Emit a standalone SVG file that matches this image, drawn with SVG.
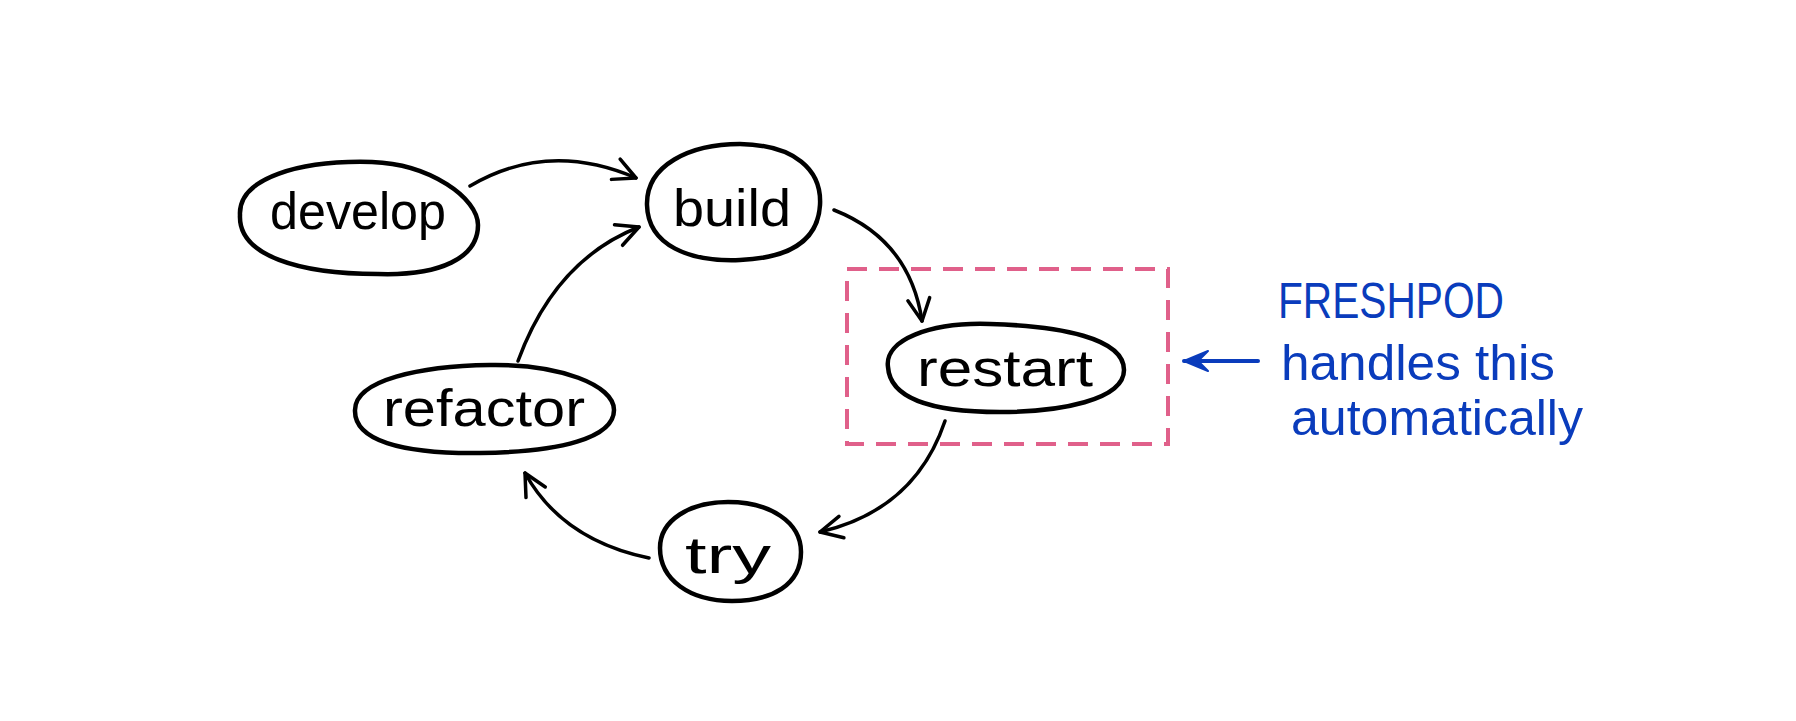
<svg xmlns="http://www.w3.org/2000/svg" width="1796" height="721" viewBox="0 0 1796 721">
<style>
.node{fill:none;stroke:#000;stroke-width:4.5;stroke-linecap:round;stroke-linejoin:round}
.lbl{font-family:"Liberation Sans","DejaVu Sans",sans-serif;font-size:52px;fill:#000;text-anchor:middle}
.edge{fill:none;stroke:#000;stroke-width:3.5;stroke-linecap:round}
.note{font-family:"Liberation Sans","DejaVu Sans",sans-serif;font-size:50px;fill:#0a3cbc}
</style>
<defs>
<marker id="ah" viewBox="0 0 28 28" refX="26" refY="14" markerWidth="28" markerHeight="28" markerUnits="userSpaceOnUse" orient="auto">
<path d="M4 3 L26 14 L4 25" fill="none" stroke="#000" stroke-width="3.5" stroke-linecap="round" stroke-linejoin="round"/>
</marker>
<marker id="bh" viewBox="0 0 30 24" refX="28" refY="12" markerWidth="30" markerHeight="24" markerUnits="userSpaceOnUse" orient="auto">
<path d="M28 12 L4 2 L14 12 L4 22 Z" fill="#0a3cbc" stroke="#0a3cbc" stroke-width="2" stroke-linejoin="round"/>
</marker>
</defs>
<rect width="1796" height="721" fill="#fff"/>
<g id="connectors">
<path class="edge" d="M470 186 Q548 140 636 178" marker-end="url(#ah)"/>
<path class="edge" d="M518 361 Q555 260 639 227" marker-end="url(#ah)"/>
<path class="edge" d="M834 210 Q910 240 922 321" marker-end="url(#ah)"/>
<path class="edge" d="M945 421 Q915 510 820 532" marker-end="url(#ah)"/>
<path class="edge" d="M649 558 Q562 540 525 473" marker-end="url(#ah)"/>
</g>
<g id="develop">
<path class="node" d="M240 215 C238 178 300 160 372 162 C430 164 478 198 478 225 C478 258 440 276 378 274 C300 274 238 256 240 215 Z"/>
<text class="lbl" x="358" y="229" textLength="176" lengthAdjust="spacingAndGlyphs">develop</text>
</g>
<g id="build">
<path class="node" d="M647 205 C646 165 690 144 740 144 C795 145 822 170 820 205 C818 240 790 258 740 260 C690 262 648 246 647 205 Z"/>
<text class="lbl" x="732" y="226" textLength="118" lengthAdjust="spacingAndGlyphs">build</text>
</g>
<g id="restart">
<rect x="847" y="269" width="321" height="175" fill="none" stroke="#e0608a" stroke-width="4" stroke-dasharray="20 12"/>
<path class="node" d="M888 367 C884 340 930 322 990 324 C1060 326 1124 338 1124 370 C1124 400 1060 412 1000 412 C930 412 890 398 888 367 Z"/>
<text class="lbl" x="1005" y="386" textLength="176" lengthAdjust="spacingAndGlyphs">restart</text>
</g>
<g id="refactor">
<path class="node" d="M355 410 C355 380 420 366 490 365 C560 364 614 385 614 410 C614 438 560 452 480 453 C400 454 354 440 355 410 Z"/>
<text class="lbl" x="484" y="426" textLength="202" lengthAdjust="spacingAndGlyphs">refactor</text>
</g>
<g id="try">
<path class="node" d="M660 548 C660 520 690 502 728 502 C770 502 801 522 801 552 C801 585 772 601 732 601 C690 601 660 580 660 548 Z"/>
<text class="lbl" x="728" y="573" textLength="86" lengthAdjust="spacingAndGlyphs">try</text>
</g>
<g id="note">
<path d="M1258 361 L1184 361" fill="none" stroke="#0a3cbc" stroke-width="4" stroke-linecap="round" marker-end="url(#bh)"/>
<text class="note" x="1278" y="318" textLength="226" lengthAdjust="spacingAndGlyphs">FRESHPOD</text>
<text class="note" x="1281" y="380" textLength="274" lengthAdjust="spacingAndGlyphs">handles this</text>
<text class="note" x="1291" y="435" textLength="292" lengthAdjust="spacingAndGlyphs">automatically</text>
</g>
</svg>
